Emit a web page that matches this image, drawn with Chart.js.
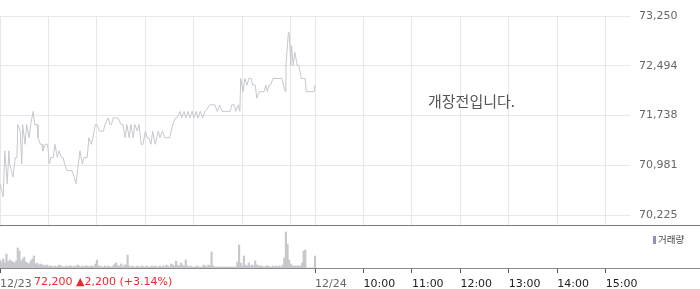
<!DOCTYPE html>
<html>
<head>
<meta charset="utf-8">
<script src="https://cdn.jsdelivr.net/npm/chart.js@4.4.0/dist/chart.umd.min.js"></script>
<style>
  body { margin: 0; background: #fff; }
  #wrap { position: relative; width: 700px; height: 289px; overflow: hidden; font-family: "DejaVu Sans", sans-serif; }
  #priceChart { position: absolute; left: 0; top: 0; }
  #volumeChart { position: absolute; left: 0; top: 226px; }
  .hline { position: absolute; left: 0; width: 700px; height: 1px; }
  #sep { top: 225px; background: #7a7a7a; }
  #axisLine { top: 268px; background: #8a8a8a; }
  #preOpen { position: absolute; left: 428px; top: 90px; font: 15px "Noto Sans CJK KR", sans-serif; color: #555; white-space: nowrap; }
  #change { position: absolute; left: 34px; top: 275px; font: 11px "DejaVu Sans", sans-serif; color: #f0282d; white-space: nowrap; }
  #legend { position: absolute; left: 653px; top: 232px; font: 9.5px "Noto Sans CJK KR", sans-serif; color: #444; white-space: nowrap; }
  #legend i { display: inline-block; width: 3px; height: 8px; background: #9b87c5; margin-right: 2px; vertical-align: -1px; }
</style>
</head>
<body>
<div id="wrap">
  <canvas id="priceChart" width="700" height="225"></canvas>
  <div class="hline" id="sep"></div>
  <canvas id="volumeChart" width="700" height="63"></canvas>
  <div class="hline" id="axisLine"></div>
  <div id="preOpen">개장전입니다.</div>
  <div id="change">72,200 ▲2,200 (+3.14%)</div>
  <div id="legend"><i></i>거래량</div>
</div>
<script>
// Minutes of one trading session (09:00 - 15:30)
const SESSION = 390;

// Intraday price, 12/23
const priceTimes = [
  '09:00','09:04','09:06','09:09','09:11','09:12','09:16','09:19','09:21','09:22',
  '09:25','09:27','09:28','09:31','09:33','09:36','09:38','09:41','09:43','09:46',
  '09:47','09:50','09:52','09:53','09:56','09:59','10:01','10:03','10:06','10:08',
  '10:11','10:13','10:16','10:18','10:20','10:23','10:27','10:29','10:32','10:34',
  '10:37','10:39','10:42','10:44','10:48','10:50','10:53','10:55','10:58','11:00',
  '11:03','11:08','11:10','11:14','11:16','11:18','11:20','11:26','11:30','11:32',
  '11:35','11:37','11:40','11:42','11:45','11:47','11:50','11:52','11:55','11:57',
  '12:00','12:02','12:04','12:07','12:09','12:12','12:16','12:18','12:21','12:24',
  '12:30','12:32','12:34','12:37','12:39','12:43','12:45','12:48','12:50','12:53',
  '12:55','12:58','13:00','13:03','13:05','13:08','13:11','13:14','13:20','13:22',
  '13:26','13:29','13:32','13:35','13:39','13:42','13:45','13:47','13:50','13:52',
  '13:55','13:57','13:58','14:01','14:03','14:06','14:08','14:11','14:13','14:16',
  '14:18','14:21','14:23','14:27','14:29','14:31','14:33','14:35','14:38','14:43',
  '14:49','14:53','14:54','14:57','14:58','15:00','15:01','15:03','15:05','15:08',
  '15:10','15:13','15:18','15:19','15:29','15:30'
];
const priceValues = [
  70700,70500,71200,70700,71200,71000,70800,71100,71100,71600,
  71500,71000,71600,71300,71600,71400,71600,71800,71600,71600,
  71400,71300,71300,71200,71300,71300,71000,71100,71100,71300,
  71100,71200,71100,71100,71000,70900,70900,70900,70800,70700,
  71000,71200,71000,71100,71100,71400,71300,71400,71600,71600,
  71500,71500,71600,71700,71600,71600,71700,71700,71600,71600,
  71400,71600,71400,71600,71400,71600,71500,71600,71300,71300,
  71500,71400,71400,71300,71500,71300,71500,71400,71500,71400,
  71400,71500,71600,71700,71700,71800,71700,71800,71700,71800,
  71700,71800,71700,71800,71700,71800,71700,71800,71900,71900,
  71900,71800,71900,71800,71800,71800,71800,71900,71900,71800,
  71900,71800,72300,72100,72300,72200,72300,72300,72200,72200,
  72000,72100,72100,72100,72200,72100,72200,72200,72300,72300,
  72300,72100,72500,73000,73000,72500,72800,72500,72700,72500,
  72500,72300,72300,72100,72100,72200
];

// Volume per 2-minute slot from 09:00 (thousand shares)
const volumeStep = 2;
const volumeValues = [
  80,60,90,50,140,60,80,70,60,50,
  70,200,170,70,90,110,60,50,40,70,
  90,120,40,50,30,40,30,30,20,30,
  20,20,20,10,20,10,20,30,20,10,
  10,20,10,20,20,10,20,10,30,20,
  10,20,10,20,20,10,20,20,10,40,
  80,20,20,10,10,20,10,20,10,10,
  20,40,50,20,20,40,10,30,30,130,
  20,10,20,10,10,20,10,10,20,10,
  10,20,10,10,20,10,20,10,10,20,
  10,20,10,30,20,10,40,30,20,70,
  30,20,50,30,20,80,20,10,20,10,
  10,10,20,10,10,10,30,20,10,30,
  20,160,20,10,10,10,10,10,10,10,
  10,10,10,10,10,10,10,60,230,50,
  20,120,30,20,50,20,30,20,70,30,
  20,20,20,10,10,20,20,10,10,20,
  10,20,10,20,10,30,100,360,240,80,
  40,20,20,20,20,20,20,50,170,180,
  0,0,0,0,0,120
];

// Axis ticks
const priceTicks = [70225, 70981, 71738, 72494, 73250];
const priceMin = 70073;
const priceMax = 73250;
const gridTimes = ['1 09:00','1 10:00','1 11:00','1 12:00','1 13:00','1 14:00','1 15:00',
                   '2 09:00','2 10:00','2 11:00','2 12:00','2 13:00','2 14:00','2 15:00'];
const xTickTimes = ['1 09:00','2 09:00','2 10:00','2 11:00','2 12:00','2 13:00','2 14:00','2 15:00'];
const xTickLabels = ['12/23','12/24','10:00','11:00','12:00','13:00','14:00','15:00'];

// 'HH:MM' on day 1 or 2 -> minutes from 12/23 09:00
function toMinute(hhmm, day = 1) {
  const [h, m] = hhmm.split(':').map(Number);
  return (day - 1) * SESSION + (h - 9) * 60 + m;
}
function dayTime(s) {
  const [d, t] = s.split(' ');
  return toMinute(t, Number(d));
}

const gridFont = { family: 'DejaVu Sans', size: 11 };

// Price panel
new Chart(document.getElementById('priceChart'), {
  type: 'line',
  data: {
    datasets: [{
      data: priceTimes.map((t, i) => ({ x: toMinute(t), y: priceValues[i] })),
      borderColor: '#c5c8ce',
      borderWidth: 1,
      pointRadius: 0,
      tension: 0
    }]
  },
  options: {
    responsive: false,
    animation: false,
    layout: { padding: { top: 16, bottom: 0, left: 0, right: 0 } },
    plugins: { legend: { display: false }, tooltip: { enabled: false } },
    scales: {
      x: {
        type: 'linear',
        min: 0,
        max: SESSION * 2,
        afterBuildTicks: scale => { scale.ticks = gridTimes.map(s => ({ value: dayTime(s) })); },
        afterFit: scale => { scale.height = 0; },
        ticks: { display: false },
        grid: { color: '#e8e8e8', drawTicks: false },
        border: { display: false }
      },
      y: {
        position: 'right',
        min: priceMin,
        max: priceMax,
        afterBuildTicks: scale => { scale.ticks = priceTicks.map(v => ({ value: v })); },
        afterFit: scale => {
          scale.width = 70;
          scale.paddingTop = 0;
          scale.paddingBottom = 0;
        },
        ticks: {
          padding: 0,
          color: '#666',
          font: gridFont,
          callback: v => v.toLocaleString('en-US')
        },
        grid: { color: '#e8e8e8', drawTicks: true, tickLength: 9, tickColor: 'rgba(0,0,0,0)' },
        border: { display: false }
      }
    }
  }
});

// Volume panel
new Chart(document.getElementById('volumeChart'), {
  type: 'bar',
  data: {
    datasets: [{
      label: '거래량',
      data: volumeValues.map((v, i) => ({ x: i * volumeStep, y: v })),
      backgroundColor: '#c6c8cc',
      barThickness: 1.5
    }]
  },
  options: {
    responsive: false,
    animation: false,
    layout: { padding: { top: 0, right: 70, left: 0, bottom: 0 } },
    plugins: { legend: { display: false }, tooltip: { enabled: false } },
    scales: {
      x: {
        type: 'linear',
        min: 0,
        max: SESSION * 2,
        offset: false,
        afterBuildTicks: scale => { scale.ticks = xTickTimes.map(s => ({ value: dayTime(s) })); },
        afterFit: scale => {
          scale.height = 21;
          scale.paddingLeft = 0;
          scale.paddingRight = 0;
        },
        ticks: {
          autoSkip: false,
          maxRotation: 0,
          align: 'start',
          padding: 5,
          font: gridFont,
          color: ctx => ctx.index < 2 ? '#666' : '#222',
          callback: (v, i) => xTickLabels[i]
        },
        grid: { offset: false, drawOnChartArea: false, drawTicks: true, tickLength: 5, color: '#555' },
        border: { display: false }
      },
      y: {
        display: false,
        min: 0,
        max: 420
      }
    }
  }
});
</script>
</body>
</html>
